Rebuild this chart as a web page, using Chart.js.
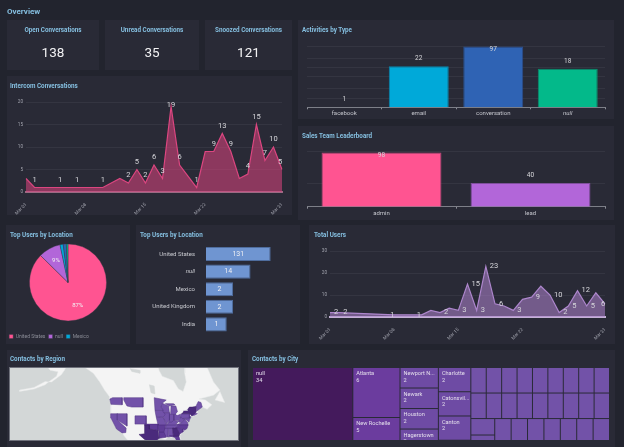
<!DOCTYPE html>
<html>
<head>
<meta charset="utf-8">
<script src="https://cdn.jsdelivr.net/npm/chart.js@4/dist/chart.umd.min.js"></script>
<style>
  html, body { margin: 0; padding: 0; width: 624px; height: 447px; overflow: hidden; background: #22242e; font-family: Roboto, sans-serif; }
  #page { position: absolute; left: 0; top: 0; width: 624px; height: 447px; filter: blur(0.3px); }
  .panel { position: absolute; background: #292a36; }
  .title { position: absolute; color: #85bfe0; font-size: 6.3px; font-weight: 700; white-space: nowrap; line-height: 8px; }
  .kpi { position: absolute; color: #f2f2f4; font-size: 13.5px; text-align: center; line-height: 16px; }
  canvas { position: absolute; }
  #map-frame { position: absolute; left: 10px; top: 368px; width: 228px; height: 72px; background: #d3d7d7; box-shadow: 0 0 0 1px #6f717b; }
</style>
</head>
<body>
<div id="page">
<div class="panel" style="left:7px;top:20px;width:92px;height:50px"></div>
<div class="panel" style="left:105px;top:20px;width:94px;height:50px"></div>
<div class="panel" style="left:205px;top:20px;width:87px;height:50px"></div>
<div class="panel" style="left:7px;top:76px;width:285px;height:139px"></div>
<div class="panel" style="left:298px;top:20px;width:316px;height:99px"></div>
<div class="panel" style="left:298px;top:126px;width:316px;height:94px"></div>
<div class="panel" style="left:6px;top:225px;width:124px;height:119px"></div>
<div class="panel" style="left:136px;top:225px;width:164px;height:119px"></div>
<div class="panel" style="left:309px;top:225px;width:306px;height:119px"></div>
<div class="panel" style="left:7px;top:350px;width:234px;height:97px"></div>
<div class="panel" style="left:248px;top:350px;width:367px;height:97px"></div>

<div class="title" style="left:7px;top:7px;font-size:8px;line-height:10px">Overview</div>
<div class="title" style="left:7px;top:26px;width:92px;text-align:center">Open Conversations</div>
<div class="title" style="left:105px;top:26px;width:94px;text-align:center">Unread Conversations</div>
<div class="title" style="left:205px;top:26px;width:87px;text-align:center">Snoozed Conversations</div>
<div class="kpi" style="left:7px;top:44px;width:92px" id="kpi-open"></div>
<div class="kpi" style="left:105px;top:44px;width:94px" id="kpi-unread"></div>
<div class="kpi" style="left:205px;top:44px;width:87px" id="kpi-snoozed"></div>
<div class="title" style="left:10px;top:82px">Intercom Conversations</div>
<div class="title" style="left:302px;top:26px">Activities by Type</div>
<div class="title" style="left:302px;top:132px">Sales Team Leaderboard</div>
<div class="title" style="left:10px;top:231px">Top Users by Location</div>
<div class="title" style="left:140px;top:231px">Top Users by Location</div>
<div class="title" style="left:314px;top:231px">Total Users</div>
<div class="title" style="left:10px;top:355px">Contacts by Region</div>
<div class="title" style="left:252px;top:355px">Contacts by City</div>

<canvas id="intercomChart" style="left:7px;top:76px" width="285" height="139"></canvas>
<canvas id="activitiesChart" style="left:298px;top:20px" width="316" height="99"></canvas>
<canvas id="salesChart" style="left:298px;top:126px" width="316" height="94"></canvas>
<canvas id="pieChart" style="left:6px;top:225px" width="124" height="119"></canvas>
<canvas id="locationChart" style="left:136px;top:225px" width="164" height="119"></canvas>
<canvas id="usersChart" style="left:309px;top:225px" width="306" height="119"></canvas>
<div id="map-frame"><canvas id="mapChart" width="228" height="72"></canvas></div>
<canvas id="cityChart" style="left:253px;top:368px" width="357" height="72"></canvas>
</div>

<script>
const openConversations = 138;
const unreadConversations = 35;
const snoozedConversations = 121;

const days = ['Mar 01', 'Mar 02', 'Mar 03', 'Mar 04', 'Mar 05', 'Mar 06', 'Mar 07', 'Mar 08', 'Mar 09', 'Mar 10',
    'Mar 11', 'Mar 12', 'Mar 13', 'Mar 14', 'Mar 15', 'Mar 16', 'Mar 17', 'Mar 18', 'Mar 19', 'Mar 20', 'Mar 21',
    'Mar 22', 'Mar 23', 'Mar 24', 'Mar 25', 'Mar 26', 'Mar 27', 'Mar 28', 'Mar 29', 'Mar 30', 'Mar 31'];
const shownDays = ['Mar 01', 'Mar 08', 'Mar 15', 'Mar 22', 'Mar 31'];

const intercomValues = [3, 1, null, null, 1, null, 1, null, null, 1, null, 3, 2, 5, 2, 6, 3, 19, 6, null, 1, 9, 9, 13, 9, 3, 4, 15, 7, 10, 5];
const intercomLabelled = [1, 4, 6, 9, 12, 13, 14, 15, 16, 17, 18, 20, 22, 23, 24, 26, 27, 28, 29, 30];

const userValues = [2, 2, null, null, null, null, null, 1, null, null, 1, 3, 2, 4, 3, 15, 3, 23, 6, 5, 3, 8, 9, 14, 10, 2, 5, 12, 5, 11, 6];
const userLabelled = [0, 1, 7, 10, 12, 14, 15, 16, 17, 18, 20, 22, 24, 25, 26, 27, 28, 30];

const activityTypes = ['facebook', 'email', 'conversation', 'null'];
const activityValues = [1, 22, 97, 18];
const activityTicks = [1, 2, 4, 10, 20, 40, 100];

const salesTeams = ['admin', 'lead'];
const salesValues = [98, 40];
const salesTicks = [20, 40, 100];

const locations = ['United States', 'null', 'Mexico', 'United Kingdom', 'India'];
const locationValues = [131, 14, 2, 2, 1];

const cityNames = ['null', 'Atlanta', 'New Rochelle', '', 'Newport N...', 'Newark', 'Houston', 'Hagerstown', '', '', '', 'Charlotte', 'Catonsvil...', 'Canton'];
const ones = (n) => new Array(n).fill(1);
const cityTree = [
    34,
    [6, 5, 5],
    [2, 2, 2, 2, 2, 2, 1],
    [2, 2, 2, 2, 2, 1],
    [ones(9), ones(9), [ones(5), [ones(7), ones(7), ones(7), ones(3)]]],
];

// rough outlines as [longitude, latitude]
const northAmerica = [[-165, 61], [-162, 59], [-157, 58.5], [-158, 57], [-163, 55], [-161, 55], [-155, 57.5], [-153, 59], [-151, 61], [-149, 61],
    [-150, 60], [-146, 60.5], [-140, 59.8], [-135, 58], [-131, 55], [-128, 52], [-125, 49.5], [-124.7, 48.4], [-124, 46], [-124.3, 42], [-124, 40],
    [-122, 37], [-120, 34.5], [-117, 32.5], [-115, 30], [-112, 27], [-110, 24], [-105, 20], [-95, 18], [-97, 22], [-97.5, 26], [-97, 28], [-94, 29.5],
    [-90, 29], [-88, 30.3], [-84, 30], [-82.5, 27.5], [-81, 25], [-80, 27], [-81, 31], [-78, 34], [-76, 35.5], [-76, 38], [-74, 40.5], [-70, 41.5],
    [-70, 44], [-67, 45], [-64, 44], [-61, 46], [-65, 48], [-69, 48.5], [-60, 50], [-56, 52], [-60, 55], [-64, 60], [-70, 61], [-78, 62], [-78, 58],
    [-77, 55], [-79, 51.5], [-82, 52.5], [-85, 55.5], [-92, 57], [-94, 59], [-95, 62], [-88, 68], [-120, 72], [-165, 70]];
const aleutians = [[-181, 51.5], [-172, 52.4], [-165, 54], [-163, 55], [-165, 55.2], [-172, 53], [-181, 52]];
const newfoundland = [[-59, 48], [-53, 47], [-56, 51.5]];
const winnipeg = [[-100, 54], [-97, 53.5], [-96.5, 50.5], [-99, 51]];
const athabasca = [[-112, 59.5], [-106, 59], [-106, 58], [-111, 58.6]];

const washington = [[-124.7, 48.4], [-123, 49], [-117, 49], [-117, 46], [-124, 46.2]];
const montana = [[-116, 49], [-104, 49], [-104, 45], [-111, 45], [-114, 45.5], [-116, 48]];
const nevada = [[-120, 42], [-114, 42], [-114, 36], [-120, 39]];
const california = [[-124.2, 42], [-120, 42], [-120, 39], [-114.5, 35], [-114.7, 32.7], [-117, 32.5], [-120.5, 34.5], [-124, 40]];
const colorado = [[-109, 41], [-102, 41], [-102, 37], [-109, 37]];
const minnesota = [[-97, 49], [-89.5, 48], [-92, 46.7], [-92.8, 45], [-91.2, 43.5], [-96.5, 43.5]];
const wisconsin = [[-92, 46.7], [-88, 45.5], [-87.5, 42.5], [-91.2, 42.5], [-92.8, 45]];
const iowa = [[-96.5, 43.5], [-91.2, 43.5], [-90.2, 41.5], [-91.5, 40.4], [-95.8, 40.6]];
const missouri = [[-95.8, 40.6], [-91.5, 40.4], [-89.2, 36.5], [-94.6, 36.5]];
const arkansas = [[-94.6, 36.5], [-89.7, 36.5], [-91, 33], [-94, 33]];
const illinois = [[-91.2, 42.5], [-87.5, 42.5], [-87.5, 39], [-89.2, 37], [-91.4, 40]];
const michigan = [[-86.5, 45.5], [-83.5, 45.5], [-82.5, 43], [-83.5, 41.7], [-86.8, 41.7]];
const upperMichigan = [[-90, 46.5], [-85, 46.5], [-84, 46], [-87.5, 45.5]];
const indiana = [[-87.5, 41.7], [-84.8, 41.7], [-84.8, 39], [-86, 38], [-87.9, 38]];
const ohio = [[-84.8, 41.7], [-83.5, 41.7], [-82.5, 41.4], [-81, 41.8], [-80.5, 40.5], [-82, 38.6], [-84.8, 39]];
const kentucky = [[-89.3, 36.6], [-83.7, 36.6], [-82, 38.2], [-84.8, 39], [-87.9, 38]];
const tennessee = [[-90, 35], [-84.3, 35], [-81.7, 36.6], [-89.5, 36.6]];
const mississippi = [[-91, 35], [-88.2, 35], [-88.4, 30.3], [-91.5, 31]];
const alabama = [[-88.2, 35], [-85.6, 35], [-85, 31], [-88, 30.3]];
const virginia = [[-83.7, 36.6], [-75.8, 36.6], [-76.3, 38], [-78, 39.3], [-80, 37.5]];
const westVirginia = [[-82, 38.2], [-80.5, 40.5], [-79.5, 39.7], [-78, 39.3], [-80, 37.5]];
const pennsylvania = [[-80.5, 42], [-75, 42], [-75, 40], [-80.5, 39.7]];
const maine = [[-71, 45.3], [-69.5, 47.4], [-67.8, 47], [-67, 45], [-70.5, 43.2]];
const newEngland = [[-73.4, 42.7], [-70, 42], [-71.8, 41.3], [-73.6, 41]];
const midAtlantic = [[-75, 41], [-74, 40.5], [-75, 39], [-75.3, 38], [-77, 39], [-79.5, 39.7], [-75, 40]];
const oklahoma = [[-103, 37], [-94.6, 37], [-94.5, 33.7], [-100, 34.5], [-103, 36.5]];
const texas = [[-103, 36.5], [-100, 36.5], [-100, 34.5], [-94.5, 33.7], [-94, 29.6], [-97.2, 27], [-97.4, 26], [-99.5, 27.5], [-103, 29], [-106.5, 31.7], [-103, 32]];
const louisiana = [[-94, 33], [-91, 33], [-89.5, 30.2], [-94, 29.6]];
const georgia = [[-85.6, 35], [-83, 35], [-81, 32], [-81.6, 30.7], [-85, 30.7]];
const southCarolina = [[-83, 35], [-79, 34.6], [-79, 33], [-81, 32]];
const northCarolina = [[-84, 35], [-81.7, 36.6], [-75.8, 36.6], [-76.5, 34.8], [-78, 33.9], [-79, 34.6]];
const florida = [[-87.5, 31], [-85, 31], [-81.6, 30.7], [-80, 26], [-81, 25], [-82.8, 28], [-84, 30]];
const newYork = [[-79.7, 42], [-79, 43.3], [-76.5, 43.6], [-75, 45], [-73.3, 45], [-71, 45.3], [-70.8, 42.7], [-73.5, 41], [-75, 42]];
const lakeErie = [[-83.4, 41.8], [-82.4, 41.5], [-79, 42.8], [-79, 43.6], [-76, 43.6], [-79.5, 44], [-82, 42.8]];

const lightStates = [washington, montana, nevada, california, colorado, minnesota, wisconsin, iowa, missouri, illinois, michigan, upperMichigan,
    indiana, ohio, kentucky, tennessee, virginia, westVirginia, pennsylvania, maine, newEngland, midAtlantic, alabama, mississippi];
const midStates = [arkansas, oklahoma, louisiana, southCarolina, northCarolina, florida];
const darkStates = [texas, georgia, newYork];
const waterShapes = [winnipeg, athabasca];
const landShapes = [northAmerica, aleutians, newfoundland];

Chart.defaults.font.family = 'Roboto, sans-serif';
Chart.defaults.animation = false;
Chart.defaults.responsive = false;
Chart.defaults.devicePixelRatio = 1;
Chart.defaults.events = [];
Chart.defaults.plugins.legend.display = false;
Chart.defaults.plugins.tooltip.enabled = false;

document.getElementById('kpi-open').textContent = openConversations;
document.getElementById('kpi-unread').textContent = unreadConversations;
document.getElementById('kpi-snoozed').textContent = snoozedConversations;

const GRID = 'rgba(255,255,255,0.055)';
const TICK_TEXT = '#a3a5af';
const LABEL_TEXT = '#d8d8dc';

// labels on the marks; place is above, right, inside or center, shift moves single ones sideways
function markLabels({ indices, place, size = 7, shift = {} }) {
    return {
        id: 'markLabels',
        afterDatasetsDraw(chart) {
            const { ctx, chartArea } = chart;
            const data = chart.data.datasets[0].data;
            const points = chart.getDatasetMeta(0).data;
            ctx.save();
            ctx.font = `${size}px Roboto`;
            ctx.fillStyle = LABEL_TEXT;
            ctx.textBaseline = 'middle';
            ctx.textAlign = place === 'right' ? 'left' : 'center';
            (indices || data.map((_, i) => i)).forEach((i) => {
                const p = points[i];
                let x = p.x + (shift[i] || 0);
                let y = p.y;
                if (place === 'above') y = Math.max(p.y - 7.5, chartArea.top + 3.5);
                if (place === 'right') x += 4;
                if (place === 'center') {
                    ctx.fillStyle = '#f0f0f4';
                    x = (p.x + p.base) / 2;
                }
                ctx.fillText(data[i], x, y);
            });
            ctx.restore();
        },
    };
}

function buildAreaChart(id, values, labelled, place, shift, line, fill, base, yMax, yStep, box) {
    new Chart(document.getElementById(id), {
        type: 'line',
        data: {
            labels: days,
            datasets: [{
                data: values,
                spanGaps: true,
                fill: 'origin',
                tension: 0,
                pointRadius: 0,
                borderWidth: 1.2,
                borderColor: line,
                backgroundColor: fill,
            }],
        },
        options: {
            layout: { padding: { left: 0, top: box.top, right: box.right, bottom: 0 } },
            scales: {
                x: {
                    offset: false,
                    grid: { display: false },
                    border: { color: base, width: 2 },
                    afterFit: (scale) => { scale.height = box.xHeight; },
                    ticks: {
                        autoSkip: false,
                        minRotation: 45,
                        maxRotation: 45,
                        padding: 2,
                        color: TICK_TEXT,
                        font: { size: 4.6 },
                        callback: (value, index) => (shownDays.includes(days[index]) ? days[index] : ''),
                    },
                },
                y: {
                    min: 0,
                    max: yMax,
                    grid: { color: GRID, drawTicks: false },
                    border: { display: false },
                    afterFit: (scale) => { scale.width = box.yWidth; },
                    ticks: { stepSize: yStep, padding: 3, color: TICK_TEXT, font: { size: 4.6 } },
                },
            },
        },
        plugins: [markLabels({ indices: labelled, place, size: 7.5, shift })],
    });
}

function buildColumnChart(id, labels, values, fills, edges, ticks, yMin, yMax, box) {
    new Chart(document.getElementById(id), {
        type: 'bar',
        data: {
            labels,
            datasets: [{
                data: values,
                backgroundColor: fills,
                borderColor: edges,
                borderWidth: 1,
                categoryPercentage: 1,
                barPercentage: 0.805,
            }],
        },
        options: {
            layout: { padding: { left: box.left, top: box.top, right: box.right, bottom: 0 } },
            scales: {
                x: {
                    grid: { drawOnChartArea: false, drawTicks: true, tickLength: 2, color: '#8b8d96' },
                    border: { color: '#7d7f88', width: 1 },
                    afterFit: (scale) => { scale.height = box.xHeight; },
                    ticks: {
                        color: '#c4c5cc',
                        padding: 1,
                        font: (c) => ({ size: 6, style: labels[c.index] === 'null' ? 'italic' : 'normal' }),
                    },
                },
                y: {
                    type: 'logarithmic',
                    min: yMin,
                    max: yMax,
                    grid: { color: GRID, drawTicks: false },
                    border: { display: false },
                    afterFit: (scale) => { scale.width = 0; },
                    afterBuildTicks: (scale) => { scale.ticks = ticks.map((value) => ({ value })); },
                    ticks: { display: false },
                },
            },
        },
        plugins: [markLabels({ place: 'above', size: 6.5 })],
    });
}

function buildPie() {
    const percentLabels = {
        id: 'percentLabels',
        afterDatasetsDraw(chart) {
            const { ctx } = chart;
            const total = locationValues.reduce((a, b) => a + b, 0);
            ctx.save();
            ctx.font = '6px Roboto';
            ctx.fillStyle = '#f2f0f4';
            ctx.textAlign = 'center';
            ctx.textBaseline = 'middle';
            chart.getDatasetMeta(0).data.forEach((arc, i) => {
                const share = locationValues[i] / total;
                if (share < 0.05) return;
                const angle = (arc.startAngle + arc.endAngle) / 2;
                const r = arc.outerRadius * 0.65;
                ctx.fillText(`${Math.round(share * 100)}%`, arc.x + Math.cos(angle) * r, arc.y + Math.sin(angle) * r);
            });
            ctx.restore();
        },
    };
    new Chart(document.getElementById('pieChart'), {
        type: 'pie',
        data: {
            labels: locations,
            datasets: [{
                data: locationValues,
                backgroundColor: ['#ff5491', '#b266d9', '#00a9d9', '#2f63b4', '#03b98a'],
                borderColor: '#3a3a48',
                borderWidth: 0.4,
                radius: 38.5,
            }],
        },
        options: {
            layout: { padding: { left: 0, top: 9, right: 0, bottom: -5 } },
            plugins: {
                legend: {
                    display: true,
                    position: 'bottom',
                    align: 'start',
                    labels: {
                        boxWidth: 4,
                        boxHeight: 4,
                        padding: 3.15,
                        color: '#8b8d97',
                        font: { size: 5 },
                        filter: (item) => item.index < 3,
                    },
                },
            },
        },
        plugins: [percentLabels],
    });
}

function buildLocationBars() {
    new Chart(document.getElementById('locationChart'), {
        type: 'bar',
        data: {
            labels: locations,
            datasets: [{
                data: locationValues,
                backgroundColor: '#6f95d1',
                borderColor: '#4f6d9e',
                borderWidth: 1,
                categoryPercentage: 1,
                barPercentage: 0.8,
            }],
        },
        options: {
            indexAxis: 'y',
            layout: { padding: { left: 0, top: 20.2, right: 11, bottom: 10.8 } },
            scales: {
                x: { type: 'logarithmic', min: 0.1, max: 1000, display: false },
                y: {
                    grid: { display: false },
                    border: { display: false },
                    afterFit: (scale) => { scale.width = 70; },
                    ticks: {
                        color: '#c9cad0',
                        padding: 3,
                        font: (c) => ({ size: 6, style: locations[c.index] === 'null' ? 'italic' : 'normal' }),
                    },
                },
            },
        },
        plugins: [markLabels({ place: 'center', size: 7 })],
    });
}

function toMercator(lat) {
    return Math.log(Math.tan(Math.PI / 4 + (lat * Math.PI) / 360));
}

function shapeDatasets(shapes, fill, edge) {
    return shapes.map((shape) => ({
        data: shape.concat([shape[0]]).map(([lon, lat]) => ({ x: lon, y: toMercator(lat) })),
        showLine: true,
        fill: 'shape',
        tension: 0,
        pointRadius: 0,
        borderWidth: 0.5,
        borderColor: edge,
        backgroundColor: fill,
    }));
}

function buildMap() {
    new Chart(document.getElementById('mapChart'), {
        type: 'scatter',
        data: {
            // first dataset ends up on top
            datasets: [
                ...shapeDatasets([lakeErie], '#f4f4f4', '#f4f4f4'),
                ...shapeDatasets(darkStates, '#4a2a7c', '#3f2369'),
                ...shapeDatasets(midStates, '#5f3c97', '#4a2d7c'),
                ...shapeDatasets(lightStates, '#7252a9', '#523684'),
                ...shapeDatasets(waterShapes, '#d3d7d7', '#d3d7d7'),
                ...shapeDatasets(landShapes, '#f4f4f4', '#e6e8e8'),
            ],
        },
        options: {
            scales: {
                x: { display: false, min: -187, max: -44.7 },
                y: { display: false, min: toMercator(28.7), max: toMercator(59.7) },
            },
        },
    });
}

function nodeTotal(node) {
    return Array.isArray(node) ? node.reduce((sum, child) => sum + nodeTotal(child), 0) : node;
}

// slice and dice, even depths split along x and odd depths along y
function sliceCells(node, x0, x1, y0, y1, depth, cells) {
    if (!Array.isArray(node)) {
        cells.push({ x: x0, y: y0, x1, y1, v: node, name: cityNames[cells.length] || '' });
        return cells;
    }
    const total = nodeTotal(node);
    let start = depth % 2 === 0 ? x0 : y0;
    const span = depth % 2 === 0 ? x1 - x0 : y1 - y0;
    node.forEach((child) => {
        const end = start + (nodeTotal(child) / total) * span;
        if (depth % 2 === 0) sliceCells(child, start, end, y0, y1, depth + 1, cells);
        else sliceCells(child, x0, x1, start, end, depth + 1, cells);
        start = end;
    });
    return cells;
}

function cityColor(value) {
    if (value >= 30) return '#441a5c';
    if (value >= 5) return '#6b3c9e';
    if (value >= 2) return '#6e4ba4';
    return '#7252a8';
}

function buildCityTreemap() {
    const cellPainter = {
        id: 'cellPainter',
        beforeDatasetsDraw(chart) {
            const { ctx, chartArea, scales } = chart;
            ctx.save();
            ctx.beginPath();
            ctx.rect(chartArea.left, chartArea.top, chartArea.width, chartArea.height);
            ctx.clip();
            chart.data.datasets[0].data.forEach((cell) => {
                const left = scales.x.getPixelForValue(cell.x);
                const right = scales.x.getPixelForValue(cell.x1);
                const top = scales.y.getPixelForValue(cell.y);
                const bottom = scales.y.getPixelForValue(cell.y1);
                ctx.fillStyle = cityColor(cell.v);
                ctx.fillRect(left, top, right - left - 1, bottom - top - 1);
                if (cell.name) {
                    ctx.fillStyle = '#e4deec';
                    ctx.font = '5.6px Roboto';
                    ctx.textBaseline = 'middle';
                    ctx.fillText(cell.name, left + 3, top + 6);
                    ctx.fillText(cell.v, left + 3, top + 12.5);
                }
            });
            ctx.restore();
        },
    };
    new Chart(document.getElementById('cityChart'), {
        type: 'scatter',
        data: {
            datasets: [{ data: sliceCells(cityTree, 0, nodeTotal(cityTree), 0, 1, 0, []), pointRadius: 0 }],
        },
        options: {
            scales: {
                x: { display: false, min: 0, max: nodeTotal(cityTree) },
                y: { display: false, min: 0, max: 0.54, reverse: true },
            },
        },
        plugins: [cellPainter],
    });
}

buildAreaChart('intercomChart', intercomValues, intercomLabelled, 'above', { 30: -2 },
    '#dc4680', 'rgba(217,67,127,0.56)', '#9c6a84', 20, 5,
    { top: 26, right: 10, xHeight: 23, yWidth: 19 });
buildAreaChart('usersChart', userValues, userLabelled, 'right', { 7: -8, 10: -9, 30: -8 },
    '#ad86cc', 'rgba(173,130,205,0.56)', '#c4b2d6', 30, 10,
    { top: 26, right: 10, xHeight: 27, yWidth: 21 });
buildColumnChart('activitiesChart', activityTypes, activityValues,
    ['#7a7a88', '#00a9d9', '#2f63b4', '#03b98a'], ['#7a7a88', '#0b86ad', '#2a4f8f', '#0a8f6d'],
    activityTicks, 1, 100, { left: 9, top: 26, right: 9, xHeight: 11.7 });
buildColumnChart('salesChart', salesTeams, salesValues,
    ['#ff5491', '#b266d9'], ['#b6497a', '#7f4f9d'],
    salesTicks, 20, 100, { left: 9, top: 25.7, right: 9, xHeight: 13.3 });
buildPie();
buildLocationBars();
buildMap();
buildCityTreemap();
</script>
</body>
</html>
